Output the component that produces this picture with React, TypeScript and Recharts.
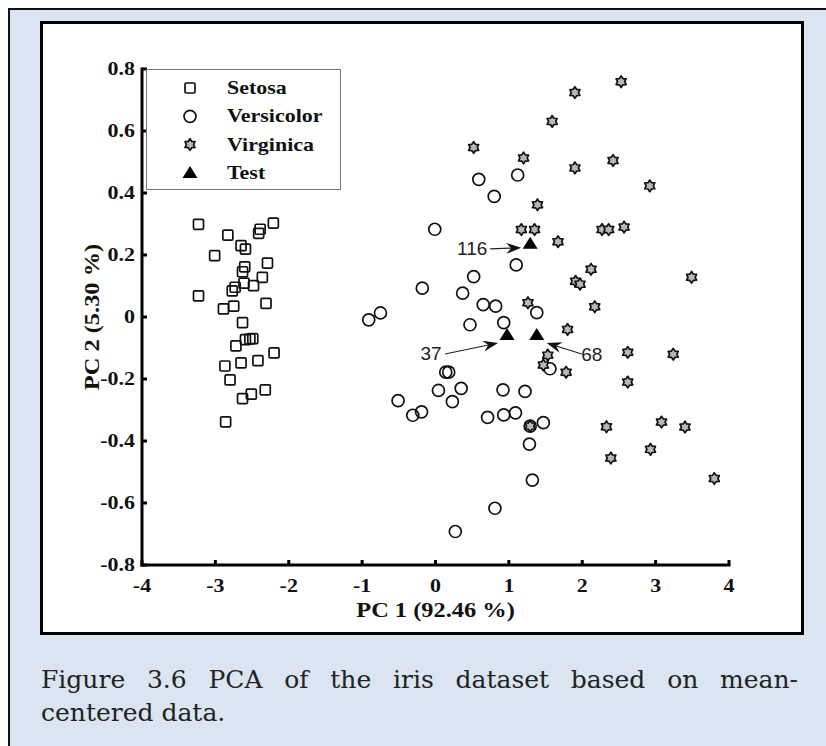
import React from 'react';
import { ScatterChart, Scatter, XAxis, YAxis, Legend, Label } from 'recharts';

// PCA scores (PC1, PC2) per class
const setosa = [
  { x: -3.23, y: 0.299 }, { x: -2.21, y: 0.303 }, { x: -2.39, y: 0.283 }, { x: -2.41, y: 0.27 },
  { x: -2.83, y: 0.264 }, { x: -2.65, y: 0.23 }, { x: -2.59, y: 0.219 }, { x: -3.01, y: 0.198 },
  { x: -2.29, y: 0.174 }, { x: -2.6, y: 0.162 }, { x: -2.63, y: 0.146 }, { x: -2.36, y: 0.128 },
  { x: -2.61, y: 0.109 }, { x: -2.48, y: 0.101 }, { x: -2.73, y: 0.096 }, { x: -2.77, y: 0.084 },
  { x: -3.23, y: 0.068 }, { x: -2.31, y: 0.044 }, { x: -2.75, y: 0.035 }, { x: -2.89, y: 0.026 },
  { x: -2.63, y: -0.018 }, { x: -2.59, y: -0.073 }, { x: -2.53, y: -0.071 }, { x: -2.49, y: -0.07 },
  { x: -2.72, y: -0.093 }, { x: -2.2, y: -0.116 }, { x: -2.87, y: -0.158 }, { x: -2.65, y: -0.148 },
  { x: -2.42, y: -0.141 }, { x: -2.8, y: -0.203 }, { x: -2.32, y: -0.235 }, { x: -2.51, y: -0.249 },
  { x: -2.63, y: -0.263 }, { x: -2.86, y: -0.338 },
];

const versicolor = [
  { x: 0.59, y: 0.444 }, { x: 1.12, y: 0.458 }, { x: 0.8, y: 0.389 }, { x: -0.01, y: 0.283 },
  { x: 1.1, y: 0.168 }, { x: 0.52, y: 0.13 }, { x: -0.18, y: 0.093 }, { x: 0.37, y: 0.077 },
  { x: 0.65, y: 0.04 }, { x: 0.82, y: 0.035 }, { x: -0.75, y: 0.013 }, { x: -0.91, y: -0.009 },
  { x: 1.38, y: 0.014 }, { x: 0.47, y: -0.025 }, { x: 0.93, y: -0.018 }, { x: 0.14, y: -0.178 },
  { x: 0.18, y: -0.178 }, { x: 0.04, y: -0.237 }, { x: 0.35, y: -0.23 }, { x: 0.23, y: -0.273 },
  { x: -0.51, y: -0.27 }, { x: -0.31, y: -0.317 }, { x: -0.19, y: -0.306 }, { x: 0.92, y: -0.235 },
  { x: 1.22, y: -0.24 }, { x: 0.71, y: -0.324 }, { x: 0.93, y: -0.316 }, { x: 1.09, y: -0.309 },
  { x: 1.29, y: -0.352 }, { x: 1.47, y: -0.341 }, { x: 1.28, y: -0.41 }, { x: 1.32, y: -0.526 },
  { x: 0.81, y: -0.617 }, { x: 0.27, y: -0.692 }, { x: 1.56, y: -0.167 },
];

const virginica = [
  { x: 2.53, y: 0.759 }, { x: 1.9, y: 0.724 }, { x: 1.59, y: 0.631 }, { x: 0.52, y: 0.547 },
  { x: 1.2, y: 0.513 }, { x: 2.42, y: 0.505 }, { x: 1.9, y: 0.481 }, { x: 2.92, y: 0.423 },
  { x: 1.39, y: 0.362 }, { x: 1.17, y: 0.282 }, { x: 1.35, y: 0.282 }, { x: 2.27, y: 0.282 },
  { x: 2.36, y: 0.282 }, { x: 2.57, y: 0.29 }, { x: 1.67, y: 0.243 }, { x: 2.12, y: 0.154 },
  { x: 1.91, y: 0.115 }, { x: 1.97, y: 0.106 }, { x: 2.17, y: 0.033 }, { x: 1.26, y: 0.046 },
  { x: 1.8, y: -0.04 }, { x: 3.49, y: 0.128 }, { x: 2.62, y: -0.114 }, { x: 3.24, y: -0.12 },
  { x: 1.53, y: -0.123 }, { x: 1.47, y: -0.155 }, { x: 1.78, y: -0.178 }, { x: 2.62, y: -0.21 },
  { x: 2.33, y: -0.354 }, { x: 3.08, y: -0.339 }, { x: 3.4, y: -0.355 }, { x: 2.93, y: -0.427 },
  { x: 2.39, y: -0.455 }, { x: 3.8, y: -0.521 }, { x: 1.29, y: -0.352 },
];

const testPoints = [
  { x: 1.29, y: 0.236, label: '116' },
  { x: 0.975, y: -0.058, label: '37' },
  { x: 1.38, y: -0.058, label: '68' },
];

const xTicks = [-4, -3, -2, -1, 0, 1, 2, 3, 4];
const yTicks = [-0.8, -0.6, -0.4, -0.2, 0, 0.2, 0.4, 0.6, 0.8];
const seriesNames = ['Setosa', 'Versicolor', 'Virginica', 'Test'];
const xTitle = 'PC 1 (92.46 %)';
const yTitle = 'PC 2 (5.30 %)';
const captionLines = ['Figure 3.6 PCA of the iris dataset based on mean-', 'centered data.'];

const SERIF = "'Liberation Serif', 'Times New Roman', serif";
const STRETCH = 1.22;

// marker shapes
const Square = ({ cx, cy }: any) => (
  <rect x={cx - 5} y={cy - 5} width={10} height={10} rx={1.2} fill="none" stroke="#111" strokeWidth={1.7} />
);

const Ring = ({ cx, cy }: any) => (
  <circle cx={cx} cy={cy} r={6} fill="none" stroke="#111" strokeWidth={1.7} />
);

const starPath = (cx: number, cy: number, R: number, r: number) => {
  const pts: string[] = [];
  for (let i = 0; i < 12; i++) {
    const a = (-90 + i * 30) * Math.PI / 180;
    const rad = i % 2 === 0 ? R : r;
    pts.push(`${(cx + rad * Math.cos(a)).toFixed(2)},${(cy + rad * Math.sin(a)).toFixed(2)}`);
  }
  return pts.join(' ');
};

const Star = ({ cx, cy }: any) => (
  <polygon points={starPath(cx, cy, 5.8, 3.6)} fill="#b8b8b8" stroke="#111" strokeWidth={1.7} strokeLinejoin="round" />
);

const triPoints = (cx: number, cy: number) =>
  `${cx},${cy - 7} ${cx + 7.5},${cy + 5} ${cx - 7.5},${cy + 5}`;

// label + arrow placement around each test sample
const callouts: Record<string, { tx: number; ty: number; x1: number; y1: number; x2: number; y2: number }> = {
  '116': { tx: -58, ty: 5, x1: -40, y1: 5, x2: -9, y2: 4 },
  '37': { tx: -76, ty: 19, x1: -62, y1: 19, x2: -9, y2: 8 },
  '68': { tx: 55, ty: 20, x1: 45, y1: 19, x2: 10, y2: 8 },
};

const Arrow = ({ x1, y1, x2, y2 }: any) => {
  const dx = x2 - x1;
  const dy = y2 - y1;
  const len = Math.sqrt(dx * dx + dy * dy);
  const ux = dx / len;
  const uy = dy / len;
  const nx = -uy;
  const ny = ux;
  const bx = x2 - ux * 15;
  const by = y2 - uy * 15;
  const kx = x2 - ux * 10;
  const ky = y2 - uy * 10;
  const head = `${x2},${y2} ${bx + nx * 5.5},${by + ny * 5.5} ${kx},${ky} ${bx - nx * 5.5},${by - ny * 5.5}`;
  return (
    <g>
      <line x1={x1} y1={y1} x2={kx} y2={ky} stroke="#222" strokeWidth={1.2} />
      <polygon points={head} fill="#111" />
    </g>
  );
};

const TestMarker = ({ cx, cy, payload }: any) => {
  const c = callouts[payload?.label];
  return (
    <g>
      <polygon points={triPoints(cx, cy)} fill="#000" />
      {c && (
        <g>
          <Arrow x1={cx + c.x1} y1={cy + c.y1} x2={cx + c.x2} y2={cy + c.y2} />
          <text x={cx + c.tx} y={cy + c.ty} textAnchor="middle" dominantBaseline="central"
            fontFamily="'Liberation Sans', Arial, sans-serif" fontSize={19} fill="#222">
            {payload.label}
          </text>
        </g>
      )}
    </g>
  );
};

const legendIcon = (name: string, cx: number, cy: number) => {
  if (name === 'Setosa') return <Square cx={cx} cy={cy} />;
  if (name === 'Versicolor') return <Ring cx={cx} cy={cy} />;
  if (name === 'Virginica') return <Star cx={cx} cy={cy} />;
  return <polygon points={triPoints(cx, cy)} fill="#000" />;
};

const renderLegend = () => (
  <div style={{ width: 195, height: 121, border: '1px solid #777', background: '#fff', boxSizing: 'border-box' }}>
    <svg width={193} height={119} style={{ display: 'block' }}>
      {seriesNames.map((name, i) => {
        const y = 18 + i * 28.3;
        return (
          <g key={name}>
            {legendIcon(name, 43, y)}
            <text transform={`translate(80 ${y + 6}) scale(${STRETCH} 1)`} fontFamily={SERIF}
              fontWeight="bold" fontSize={18} fill="#111">
              {name}
            </text>
          </g>
        );
      })}
    </svg>
  </div>
);

const XTick = ({ x, y, payload }: any) => (
  <g>
    <line x1={x} y1={y} x2={x} y2={y - 5} stroke="#000" strokeWidth={3} />
    <text transform={`translate(${x} ${y + 27}) scale(${STRETCH} 1)`} textAnchor="middle"
      fontFamily={SERIF} fontWeight="bold" fontSize={18} fill="#111">
      {String(payload.value)}
    </text>
  </g>
);

const YTick = ({ x, y, payload }: any) => (
  <g>
    <line x1={x} y1={y} x2={x + 5} y2={y} stroke="#000" strokeWidth={3} />
    <text transform={`translate(${x - 7} ${y + 6}) scale(${STRETCH} 1)`} textAnchor="end"
      fontFamily={SERIF} fontWeight="bold" fontSize={18} fill="#111">
      {String(payload.value)}
    </text>
  </g>
);

const XTitle = ({ viewBox }: any) => (
  <text transform={`translate(${viewBox.x + viewBox.width / 2} ${viewBox.y + 52}) scale(${STRETCH} 1)`}
    textAnchor="middle" fontFamily={SERIF} fontWeight="bold" fontSize={20} fill="#111">
    {xTitle}
  </text>
);

const YTitle = ({ viewBox }: any) => (
  <text transform={`translate(${viewBox.x + 17} ${viewBox.y + viewBox.height / 2}) rotate(-90) scale(${STRETCH} 1)`}
    textAnchor="middle" fontFamily={SERIF} fontWeight="bold" fontSize={20} fill="#111">
    {yTitle}
  </text>
);

export default function App() {
  return (
    <div style={{ position: 'absolute', left: 0, top: 0, width: 826, height: 746, overflow: 'hidden', background: '#fff' }}>
      <div style={{ position: 'absolute', left: 8, top: 8, width: 840, height: 760, background: '#dbe5f1', border: '2px solid #111', boxSizing: 'border-box' }} />
      <div style={{ position: 'absolute', left: 40, top: 21, width: 764, height: 614, background: '#fff', border: '3px solid #000', boxSizing: 'border-box' }} />
      <div style={{ position: 'absolute', left: 0, top: 0 }}>
        <ScatterChart width={826} height={640} margin={{ top: 69, right: 97, bottom: 5, left: 82 }}>
          <XAxis type="number" dataKey="x" domain={[-4, 4]} ticks={xTicks} interval={0}
            axisLine={{ stroke: '#000', strokeWidth: 3, strokeLinecap: 'square' }}
            tickLine={false} tickSize={0} tickMargin={0} tick={<XTick />} height={70}>
            <Label content={<XTitle />} />
          </XAxis>
          <YAxis type="number" dataKey="y" domain={[-0.8, 0.8]} ticks={yTicks} interval={0}
            axisLine={{ stroke: '#000', strokeWidth: 3, strokeLinecap: 'square' }}
            tickLine={false} tickSize={0} tickMargin={0} tick={<YTick />} width={60}>
            <Label content={<YTitle />} />
          </YAxis>
          <Legend layout="horizontal" verticalAlign="middle" align="center" content={renderLegend}
            wrapperStyle={{ left: 146, top: 69, width: 195, height: 121 }} />
          <Scatter name="Setosa" data={setosa} shape={<Square />} isAnimationActive={false} />
          <Scatter name="Versicolor" data={versicolor} shape={<Ring />} isAnimationActive={false} />
          <Scatter name="Virginica" data={virginica} shape={<Star />} isAnimationActive={false} />
          <Scatter name="Test" data={testPoints} shape={<TestMarker />} isAnimationActive={false} />
        </ScatterChart>
      </div>
      <div style={{ position: 'absolute', left: 41, top: 663, width: 757, fontFamily: "'DejaVu Serif', serif", fontSize: 25, lineHeight: '33px', color: '#222' }}>
        <div style={{ textAlign: 'justify', textAlignLast: 'justify', whiteSpace: 'nowrap' as any }}>{captionLines[0]}</div>
        <div>{captionLines[1]}</div>
      </div>
    </div>
  );
}
